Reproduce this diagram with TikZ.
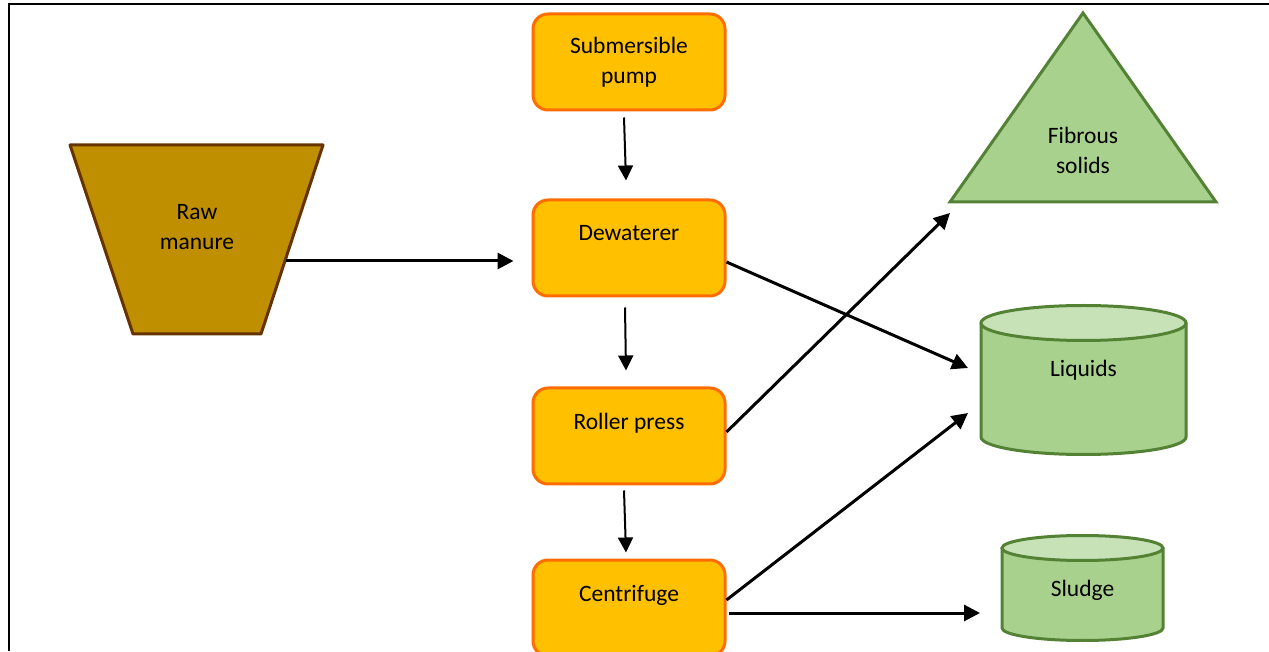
\documentclass[tikz,border=0pt]{standalone}
\usepackage{fontspec}
\setmainfont{Carlito}
\usetikzlibrary{arrows.meta}
\definecolor{fd-gold}{RGB}       {255, 192,   0}
\definecolor{fd-orange}{RGB}     {255, 108,   0}
\definecolor{fd-brown}{RGB}      {191, 143,   0}
\definecolor{fd-darkbrown}{RGB}  {102,  51,   0}
\definecolor{fd-green}{RGB}      {169, 209, 142}
\definecolor{fd-lightgreen}{RGB} {200, 226, 184}
\definecolor{fd-darkgreen}{RGB}  { 84, 130,  53}

\begin{document}
\begin{tikzpicture}[x=1pt,y=1pt,
	every node/.style={font=\fontsize{23.5}{30}\selectfont, align=center},
	stage/.style={rectangle, rounded corners=15pt, draw=fd-orange, fill=fd-gold, line width=3pt, minimum width=192pt, minimum height=96pt},
	hopper/.style={draw=fd-darkbrown, fill=fd-brown, line width=3pt, line join=round},
	pile/.style={draw=fd-darkgreen, fill=fd-green, line width=3pt},
	tank/.style={draw=fd-darkgreen, fill=fd-green, line width=3pt},
	lid/.style={draw=fd-darkgreen, fill=fd-lightgreen, line width=3pt},
	flow/.style={-{Triangle[length=16pt,width=16pt]}, line width=3pt},
	feed/.style={-{Triangle[length=15pt,width=15pt]}, line width=2pt}]
	\useasboundingbox (0,0) rectangle (1269,651);
	% frame
	\draw[line width=2.5pt] (9,0) -- (9,647) -- (1269,647);

	% outlines of hopper, pile and tanks
	\draw[hopper] (70,506) -- (323,506) -- (261,317) -- (133,317) -- cycle;
	\draw[pile] (1083,638) -- (1216,449) -- (950,449) -- cycle;
	\draw[tank] (981,328) -- (981,214) arc[start angle=180, end angle=360, x radius=102.5, y radius=17.5] -- (1186,328);
	\draw[lid] (1083.5,328) ellipse[x radius=102.5, y radius=17.5];
	\draw[tank] (1002,103) -- (1002,23) arc[start angle=180, end angle=360, x radius=80.5, y radius=12.5] -- (1163,103);
	\draw[lid] (1082.5,103) ellipse[x radius=80.5, y radius=12.5];

	\node[stage] (pump) at (629,589) {Submersible\\pump};
	\node[stage] (dew) at (629,403) {Dewaterer\\\mbox{}};
	\node[stage] (roll) at (629,215) {Roller press\\\mbox{}};
	\node[stage] (cen) at (629,43) {Centrifuge\\\mbox{}};
	\node (raw) at (197,424) {Raw\\manure};
	\node (fib) at (1083,501) {Fibrous\\solids};
	\node (liq) at (1083.5,281) {Liquids};
	\node (slu) at (1082.5,61) {Sludge};
	\coordinate (fibfoot) at (950,438);

	\draw[flow] ([shift={(89,-34)}]raw.center) -- ([shift={(-18,-13)}]dew.west);
	\draw[feed] ([shift={(-5,-6)}]pump.south) -- ([shift={(-3,18)}]dew.north);
	\draw[feed] ([shift={(-4,-10)}]dew.south) -- ([shift={(-3,16)}]roll.north);
	\draw[feed] ([shift={(-5,-5)}]roll.south) -- ([shift={(-3,6)}]cen.north);
	\draw[flow] ([shift={(0,-14)}]dew.east) -- ([shift={(-115.5,2)}]liq.center);
	\draw[flow] ([shift={(0,4)}]roll.east) -- (fibfoot);
	\draw[flow] ([shift={(0,8)}]cen.east) -- ([shift={(-115.5,-43)}]liq.center);
	\draw[flow] ([shift={(2,-5)}]cen.east) -- ([shift={(-102.5,-23)}]slu.center);
\end{tikzpicture}
\end{document}
